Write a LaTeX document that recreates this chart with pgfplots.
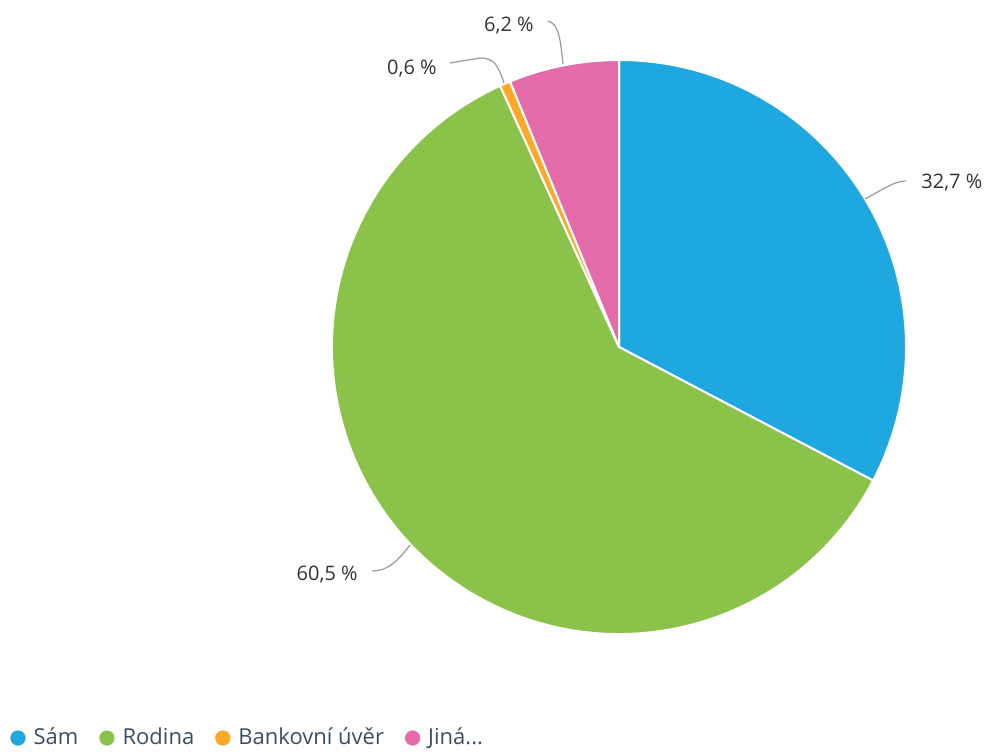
\documentclass[border=0pt]{standalone}
\usepackage{pgfplots}
\pgfplotsset{compat=1.18}
\usepackage{fontspec}
\setmainfont{Open Sans}
\definecolor{sam}{HTML}{1FA8E0}
\definecolor{rodina}{HTML}{8BC34A}
\definecolor{bank}{HTML}{FFA726}
\definecolor{jina}{HTML}{E56BAA}
\definecolor{legtext}{HTML}{3C4D66}
\definecolor{lead}{HTML}{999999}

% podily v procentech
\def\vSam{32.7}
\def\vRod{60.5}
\def\vBank{0.6}
\def\vJina{6.2}
\pgfmathsetmacro\aA{90}
\pgfmathsetmacro\aB{\aA-3.6*\vSam}
\pgfmathsetmacro\aC{\aB-3.6*\vRod}
\pgfmathsetmacro\aD{\aC-3.6*\vBank}
\pgfmathsetmacro\aE{\aD-3.6*\vJina}
\def\cx{619}\def\cy{347}\def\R{287}

\newcommand{\slice}[3]{%
  \fill[#1, draw=white, line width=1pt, line join=round]
    (axis cs:\cx,\cy) -- (axis cs:{\cx+\R*cos(#2)},{\cy-\R*sin(#2)})
    arc[start angle=#2, end angle=#3, radius=143.5pt] -- cycle;}

\tikzset{lbl/.style={inner sep=0pt, text=black!80, font=\fontsize{10}{11}\selectfont}}

\begin{document}
\begin{tikzpicture}
\begin{axis}[x=0.5pt, y=0.5pt, xmin=0, xmax=984, ymin=0, ymax=751,
  y dir=reverse, hide axis, clip=false, scale only axis,
  legend columns=-1,
  legend style={draw=none, fill=none, at={(axis cs:10,738)}, anchor=west,
    inner sep=0pt, font=\fontsize{11}{12}\selectfont, text=legtext,
    /tikz/every odd column/.append style={column sep=2pt},
    /tikz/every even column/.append style={column sep=8.5pt}},
  legend image code/.code={\fill[#1] (0pt,0pt) circle[radius=3.6pt];}]
\path (axis cs:0,0) rectangle (axis cs:984,751);
\addlegendimage{sam}\addlegendentry{Sám}
\addlegendimage{rodina}\addlegendentry{Rodina}
\addlegendimage{bank}\addlegendentry{Bankovní úvěr}
\addlegendimage{jina}\addlegendentry{Jiná...}

\slice{sam}{\aA}{\aB}
\slice{rodina}{\aB}{\aC}
\slice{bank}{\aC}{\aD}
\slice{jina}{\aD}{\aE}

% popisky s vodicimi carami
\draw[lead, line width=0.6pt] (axis cs:865,199) .. controls (axis cs:885,188) and (axis cs:895,181) .. (axis cs:906,181);
\node[lbl, anchor=west] at (axis cs:921,183) {32,7 \%};
\draw[lead, line width=0.6pt] (axis cs:410,545) .. controls (axis cs:395,565) and (axis cs:385,571) .. (axis cs:372,571);
\node[lbl, anchor=east] at (axis cs:358,575) {60,5 \%};
\draw[lead, line width=0.6pt] (axis cs:504,83) .. controls (axis cs:498,65) and (axis cs:494,58) .. (axis cs:480,58) -- (axis cs:450,63);
\node[lbl, anchor=east] at (axis cs:437,69) {0,6 \%};
\draw[lead, line width=0.6pt] (axis cs:563,64) .. controls (axis cs:560,35) and (axis cs:558,24) .. (axis cs:548,21);
\node[lbl, anchor=east] at (axis cs:534,26) {6,2 \%};
\end{axis}
\end{tikzpicture}
\end{document}
